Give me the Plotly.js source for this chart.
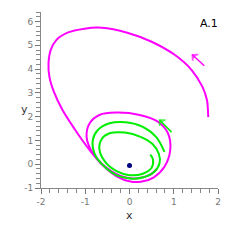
<!DOCTYPE html>
<html><head><meta charset="utf-8">
<script src="https://cdn.plot.ly/plotly-3.0.1.min.js"></script>
<style>html,body{margin:0;padding:0;background:#fff}#c{width:240px;height:240px}</style>
</head><body><div id="c"></div>
<script>
// Outer (magenta) trajectory
const magX = [1.78,1.77,1.75,1.65,1.40,1.02,0.50,-0.05,-0.63,-1.02,-1.40,-1.65,-1.78,-1.83,-1.81,-1.71,-1.52,-1.23,-0.90,-0.60,-0.30,0.02,0.28,0.55,0.79,0.92,0.87,0.64,0.23,-0.30,-0.68,-0.90,-0.97,-0.84,-0.53,-0.15,0.15,0.45,0.62];
const magY = [1.98,2.35,2.70,3.25,3.97,4.60,5.15,5.53,5.74,5.70,5.53,5.23,4.81,4.26,3.67,3.05,2.30,1.45,0.59,-0.06,-0.50,-0.73,-0.73,-0.55,-0.11,0.59,1.30,1.79,2.07,2.17,2.07,1.72,1.15,0.50,-0.13,-0.53,-0.60,-0.46,-0.20];
// Inner (green) trajectory
const grnX = [0.79,0.60,0.30,-0.08,-0.45,-0.72,-0.83,-0.79,-0.60,-0.30,0.00,0.30,0.56,0.68,0.66,0.52,0.25,-0.10,-0.45,-0.63,-0.68,-0.55,-0.28,0.00,0.30,0.50,0.53,0.47];
const grnY = [0.52,1.15,1.57,1.76,1.72,1.43,1.01,0.45,-0.04,-0.46,-0.60,-0.56,-0.32,0.05,0.45,0.85,1.15,1.33,1.30,1.05,0.62,0.10,-0.30,-0.46,-0.40,-0.15,0.20,0.40];
// Equilibrium point
const eqX = [0];
const eqY = [-0.05];
// Direction arrows: tail then head
const arrowMagX = [1.69, 1.42], arrowMagY = [4.14, 4.60];
const arrowGrnX = [0.95, 0.68], arrowGrnY = [1.35, 1.86];
const xTicks = [-2,-1,0,1,2];
const yTicks = [-1,0,1,2,3,4,5,6];
const panelLabel = "A.1";

function arrowTrace(xs, ys, col){
  return {x: xs, y: ys, mode:'lines+markers', line:{color:col, width:1.5},
    marker:{symbol:['circle','arrow-wide-open'], angleref:'previous', size:[0,6], color:col,
            line:{color:col, width:1.5}}, hoverinfo:'skip'};
}
const traces = [
  {x: magX, y: magY, mode:'lines', line:{color:'#ff00ff', width:2, shape:'spline', smoothing:1}, hoverinfo:'skip'},
  {x: grnX, y: grnY, mode:'lines', line:{color:'#00ee00', width:2, shape:'spline', smoothing:1}, hoverinfo:'skip'},
  {x: eqX, y: eqY, mode:'markers', marker:{color:'#000080', size:5}, hoverinfo:'skip'},
  arrowTrace(arrowMagX, arrowMagY, '#ff00ff'),
  arrowTrace(arrowGrnX, arrowGrnY, '#00ee00')
];
const axCommon = {showgrid:false, zeroline:false, showline:true, linecolor:'#888', linewidth:1,
  ticks:'outside', ticklen:5, tickcolor:'#777', tickwidth:1,
  tickfont:{family:'DejaVu Sans, sans-serif', size:9, color:'#777'},
  minor:{dtick:0.2, ticks:'outside', ticklen:4, tickcolor:'#888', tickwidth:1}};
const layout = {
  width:240, height:240, margin:{l:41, r:22, t:12, b:52},
  paper_bgcolor:'#fff', plot_bgcolor:'#fff', showlegend:false,
  xaxis: Object.assign({}, axCommon, {range:[-2,2], tickvals:xTicks, ticktext:xTicks.map(String)}),
  yaxis: Object.assign({}, axCommon, {range:[-1,6.4], tickvals:yTicks, ticktext:yTicks.map(String)}),
  annotations:[
    {x:0, y:-1, xref:'x', yref:'y', yshift:-27, text:'x', showarrow:false, font:{family:'DejaVu Sans, sans-serif', size:11, color:'#333'}},
    {x:-2, y:2.3, xref:'x', yref:'y', xshift:-17, text:'y', showarrow:false, font:{family:'DejaVu Sans, sans-serif', size:11, color:'#333'}},
    {x:0.949, y:0.9375, xref:'paper', yref:'paper', text:panelLabel, showarrow:false, xanchor:'center', yanchor:'middle', font:{family:'DejaVu Sans, sans-serif', size:11, color:'#000'}}
  ]
};
Plotly.newPlot('c', traces, layout, {staticPlot:true, displayModeBar:false});
</script></body></html>
